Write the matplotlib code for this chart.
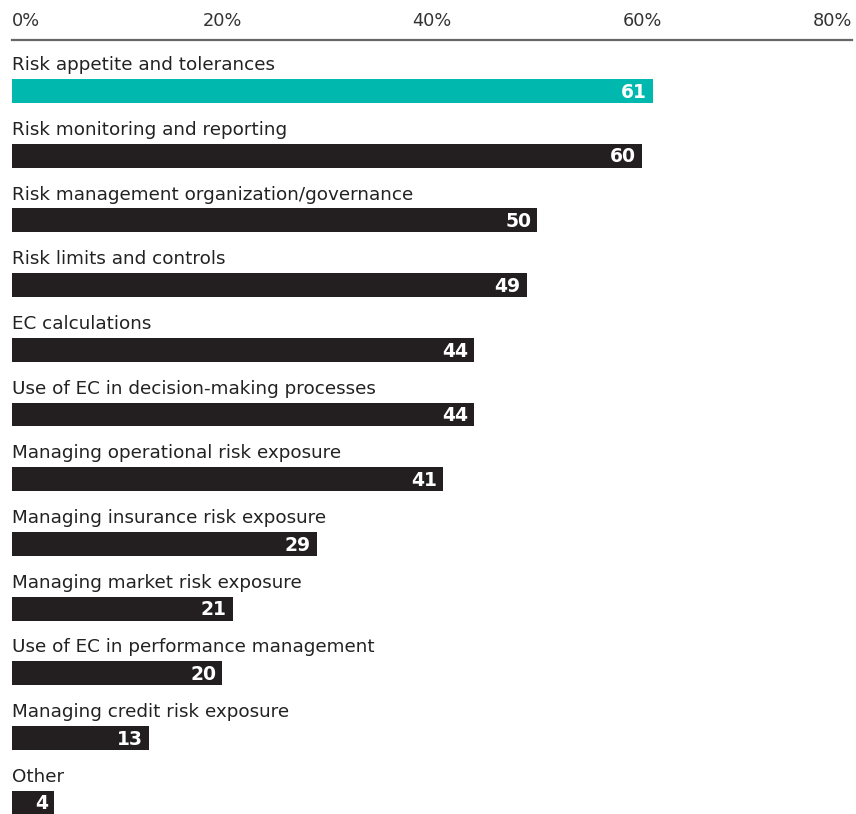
import matplotlib.pyplot as plt

categories = [
    'Risk appetite and tolerances',
    'Risk monitoring and reporting',
    'Risk management organization/governance',
    'Risk limits and controls',
    'EC calculations',
    'Use of EC in decision-making processes',
    'Managing operational risk exposure',
    'Managing insurance risk exposure',
    'Managing market risk exposure',
    'Use of EC in performance management',
    'Managing credit risk exposure',
    'Other',
]
values = [61, 60, 50, 49, 44, 44, 41, 29, 21, 20, 13, 4]
ticks = [0, 20, 40, 60, 80]
tick_labels = ['0%', '20%', '40%', '60%', '80%']

teal = '#00B8AE'
dark = '#231F20'
plt.rcParams['font.family'] = ['DejaVu Sans']

fig = plt.figure(figsize=(8.56, 8.14), dpi=100)
# axes spans from the top rule (y=40px) to the bottom of the figure
ax = fig.add_axes([12 / 856, 0, 840 / 856, 1 - 40 / 814])

colors = [teal] + [dark] * (len(values) - 1)
pos = list(range(len(values)))
ax.barh(pos, values, height=0.37, color=colors, align='center')

for i, (cat, v) in enumerate(zip(categories, values)):
    ax.text(0, i - 0.40, cat, ha='left', va='center', fontsize=13.2, color='#222222')
    ax.text(v - 0.55, i + 0.02, str(v), ha='right', va='center', fontsize=13.5,
            fontweight='bold', color='white')

ax.set_xlim(0, 80)
ax.set_ylim(11.175, -0.788)

ax.xaxis.tick_top()
ax.set_xticks(ticks)
ax.set_xticklabels(tick_labels, fontsize=12.8, color='#333333')
labels = ax.get_xticklabels()
labels[0].set_ha('left')
labels[-1].set_ha('right')
ax.tick_params(axis='x', length=0, pad=7)
ax.set_yticks([])

for side in ['right', 'bottom', 'left']:
    ax.spines[side].set_visible(False)
ax.spines['top'].set_color('#666666')
ax.spines['top'].set_linewidth(1.6)

fig.savefig('out.png', dpi=100)
